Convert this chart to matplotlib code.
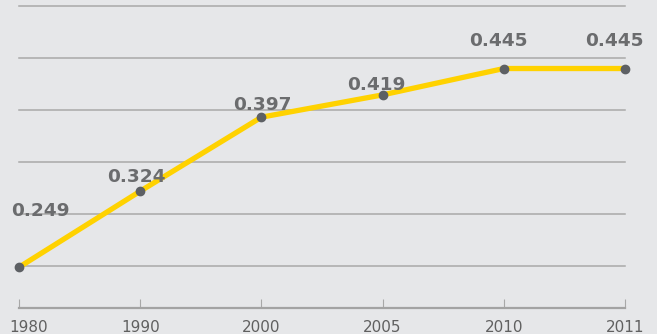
import matplotlib
matplotlib.use("Agg")
import matplotlib.pyplot as plt
import matplotlib.transforms as mtransforms
import numpy as np

# Data
years = ["1980", "1990", "2000", "2005", "2010", "2011"]
values = [0.249, 0.324, 0.397, 0.419, 0.445, 0.445]
labels = ["0.249", "0.324", "0.397", "0.419", "0.445", "0.445"]

# label offsets in pixels (dx, dy of baseline centre relative to point)
label_dx = [21.5, -4, 1, -6, -5.5, -11]
label_dy = [51, 9, 7, 5, 23, 23]

BG = "#e6e7e9"
W, H = 657, 334
fig = plt.figure(figsize=(W / 100, H / 100), dpi=100, facecolor=BG)
left, right, top, bottom = 19, 625, 6, 308
ax = fig.add_axes([left / W, 1 - bottom / H, (right - left) / W, (bottom - top) / H])
ax.set_facecolor(BG)

x = np.arange(len(years))
ytop, ybot = 0.50667, 0.20878
ax.set_xlim(0, len(years) - 1)
ax.set_ylim(ybot, ytop)

grid_vals = ytop - np.arange(6) * 0.05129
for g in grid_vals:
    ax.axhline(g, color="#a9a9a9", lw=1.1, zorder=1, clip_on=False)

ax.plot(x, values, color="#ffd200", lw=3.8, zorder=3, clip_on=False,
        solid_capstyle="butt")
ax.plot(x, values, "o", color="#5d6064", ms=6, zorder=4, clip_on=False)

for xi, v, lab, dx, dy in zip(x, values, labels, label_dx, label_dy):
    ax.annotate(lab, (xi, v), xytext=(dx, dy), textcoords="offset pixels",
                ha="center", va="baseline", fontsize=13.3, fontweight="bold",
                family="DejaVu Sans", color="#6b6c6e", zorder=5)

for s in ["top", "left", "right"]:
    ax.spines[s].set_visible(False)
ax.spines["bottom"].set_color("#a3a3a3")
ax.spines["bottom"].set_linewidth(1.6)
ax.set_yticks([])
ax.set_xticks(x)
ax.set_xticklabels(years)
ax.tick_params(axis="x", direction="in", length=6.5, width=0.8, color="#a8a8a8",
               labelsize=11, labelcolor="#606060", pad=8.5)

# shift first tick label right so it stays inside
lbl0 = ax.get_xticklabels()[0]
lbl0.set_transform(lbl0.get_transform() + mtransforms.ScaledTranslation(10 / 100, 0, fig.dpi_scale_trans))

fig.savefig("out.png", dpi=100, facecolor=BG)
